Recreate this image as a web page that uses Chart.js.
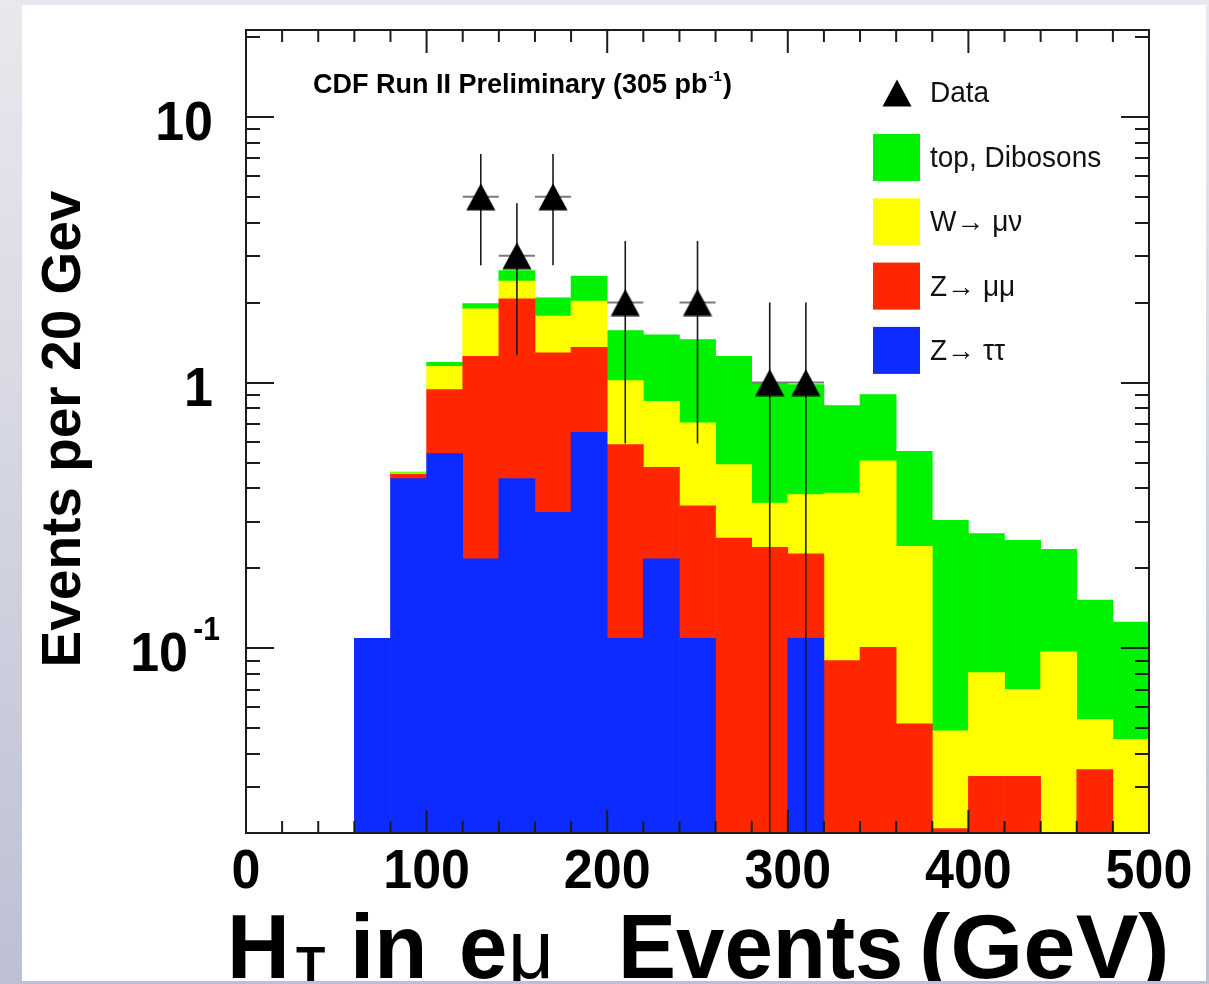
<!DOCTYPE html>
<html>
<head>
<meta charset="utf-8">
<title>HT in eμ events</title>
<script src="https://cdn.jsdelivr.net/npm/chart.js@4.4.1/dist/chart.umd.min.js"></script>
<style>
  html, body { margin: 0; padding: 0; }
  body {
    width: 1209px; height: 984px; overflow: hidden; position: relative;
    background: linear-gradient(#e8e9ee, #bdc0d3);
  }
  #panel { position: absolute; left: 22px; top: 5px; width: 1184px; height: 976px; background: #fff; }
  canvas { display: block; }
</style>
</head>
<body>
<div id="panel"><canvas id="chart" width="1184" height="976"></canvas></div>
<script>
// 20 GeV bins from 0 to 500, given by their centres
const binCenters = [10, 30, 50, 70, 90, 110, 130, 150, 170, 190, 210, 230, 250,
                    270, 290, 310, 330, 350, 370, 390, 410, 430, 450, 470, 490];

// expected events per bin for each background (stacked bottom to top)
const zTauTau = [null, null, null, 0.109, 0.435, 0.54, 0.217, 0.435, 0.325, 0.65, 0.109, 0.217, 0.109,
                 null, null, 0.109, null, null, null, null, null, null, null, null, null];
const zMuMu = [null, null, null, null, 0.018, 0.401, 1.039, 1.632, 0.969, 0.708, 0.475, 0.263, 0.235,
               0.26, 0.24, 0.118, 0.09, 0.101, 0.052, 0.021, 0.033, 0.033, null, 0.035, null];
const wMuNu = [null, null, null, null, 0.004, 0.211, 0.639, 0.34, 0.483, 0.666, 0.433, 0.37, 0.361,
               0.231, 0.112, 0.152, 0.294, 0.407, 0.19, 0.028, 0.048, 0.037, 0.097, 0.019, 0.0455];
const topDiboson = [null, null, null, null, 0.003, 0.04, 0.089, 0.233, 0.308, 0.49, 0.553, 0.662, 0.747,
                    0.765, 0.648, 0.604, 0.435, 0.393, 0.309, 0.254, 0.189, 0.185, 0.139, 0.098, 0.08];

// observed events
const dataX = [130, 150, 170, 210, 250, 290, 310];
const dataN = [5, 3, 5, 2, 2, 1, 1];
const dataErr = [2.24, 1.73, 2.24, 1.41, 1.41, 1, 1];
const binHalfWidth = 10;

const xTicks = [0, 100, 200, 300, 400, 500];
const yTicks = [10, 1, 0.1];

const GREEN = '#00f200', YELLOW = '#ffff00', RED = '#ff2600', BLUE = '#0d2bff';
const FONT = '"Liberation Sans", Arial, Helvetica, sans-serif';

// filled triangle marker, centred on its bounding box
function makeTriangle(w, h) {
  const c = document.createElement('canvas');
  c.width = w; c.height = h;
  const g = c.getContext('2d');
  g.fillStyle = '#000';
  g.beginPath();
  g.moveTo(w / 2, 0.5);
  g.lineTo(w - 0.5, h - 0.5);
  g.lineTo(0.5, h - 0.5);
  g.closePath();
  g.fill();
  return c;
}
const triangle = makeTriangle(30, 28);

function text(ctx, str, x, y, font, align, sy, sx) {
  ctx.save();
  ctx.font = font;
  ctx.textAlign = align || 'left';
  ctx.textBaseline = 'alphabetic';
  ctx.translate(x, y);
  ctx.scale(sx || 1, sy || 1);
  ctx.fillText(str, 0, 0);
  ctx.restore();
}

function drawErrorBars(chart) {
  const {ctx, chartArea: a, scales: {x, y}} = chart;
  ctx.save();
  ctx.beginPath();
  ctx.rect(a.left, a.top, a.width, a.height);
  ctx.clip();
  dataX.forEach((xv, i) => {
    const px = x.getPixelForValue(xv);
    const py = y.getPixelForValue(dataN[i]);
    const lo = dataN[i] - dataErr[i];
    const pLo = lo > 0 ? y.getPixelForValue(lo) : a.bottom;
    const pHi = y.getPixelForValue(dataN[i] + dataErr[i]);
    ctx.strokeStyle = '#7a7a7a';
    ctx.lineWidth = 2;
    ctx.beginPath();
    ctx.moveTo(x.getPixelForValue(xv - binHalfWidth), py);
    ctx.lineTo(x.getPixelForValue(xv + binHalfWidth), py);
    ctx.stroke();
    ctx.strokeStyle = '#1a1a1a';
    ctx.lineWidth = 1.6;
    ctx.beginPath();
    ctx.moveTo(px, pHi);
    ctx.lineTo(px, pLo);
    ctx.stroke();
  });
  ctx.restore();
}

function drawFrame(chart) {
  const {ctx, chartArea: a, scales: {x, y}} = chart;
  ctx.save();
  ctx.strokeStyle = '#1c1c1c';
  ctx.lineWidth = 2;
  ctx.beginPath();
  // ticks every 20 GeV, long ones at the labelled values
  for (let v = x.min; v <= x.max; v += 20) {
    const px = x.getPixelForValue(v);
    const len = xTicks.includes(v) ? 23 : 12;
    ctx.moveTo(px, a.bottom); ctx.lineTo(px, a.bottom - len);
    ctx.moveTo(px, a.top); ctx.lineTo(px, a.top + len);
  }
  // log ticks on both sides: decades long, 2..9 short
  for (let e = -2; e <= 1; e++) {
    for (let k = 1; k <= 9; k++) {
      const v = k * Math.pow(10, e);
      if (v < y.min || v > y.max) continue;
      const py = Math.round(y.getPixelForValue(v));
      const len = k === 1 ? 28 : 14;
      ctx.moveTo(a.left, py); ctx.lineTo(a.left + len, py);
      ctx.moveTo(a.right, py); ctx.lineTo(a.right - len, py);
    }
  }
  ctx.stroke();
  ctx.strokeRect(a.left, a.top, a.width, a.height);
  ctx.restore();
}

function drawLabels(chart) {
  const {ctx, chartArea: a, scales: {x, y}} = chart;
  ctx.fillStyle = '#000';
  const tickFont = 'bold 52px ' + FONT;

  xTicks.forEach(v => text(ctx, String(v), x.getPixelForValue(v), a.bottom + 55, tickFont, 'center', 1.08));

  yTicks.forEach(v => {
    const py = y.getPixelForValue(v);
    if (v >= 1) {
      text(ctx, String(v), 191, py + 23, tickFont, 'right', 1.08);
    } else {
      text(ctx, '10', 166, py + 23, tickFont, 'right', 1.08);
      text(ctx, String(Math.round(Math.log10(v))), 198, py - 8, 'bold 30px ' + FONT, 'right', 1.08);
    }
  });

  // y axis title
  ctx.save();
  ctx.translate(58, 424);
  ctx.rotate(-Math.PI / 2);
  text(ctx, 'Events per 20 Gev', 0, 0, 'bold 55px ' + FONT, 'center');
  ctx.restore();

  // x axis title: H_T in e mu Events (GeV)
  const big = 'bold 87px ' + FONT;
  const base = 973;
  text(ctx, 'H', 205, base, big, 'left', 1.05);
  text(ctx, 'T', 274, base + 4, 'bold 48px ' + FONT, 'left', 1.05);
  text(ctx, 'in', 328, base, big, 'left', 1.05);
  text(ctx, 'e', 437, base, big, 'left', 1.05);
  text(ctx, 'μ', 486, base, '80px ' + FONT, 'left', 1.05);
  text(ctx, 'Events', 596, base, big, 'left', 1.05);
  text(ctx, '(GeV)', 897, base, big, 'left', 1.05, 1.08);

  // experiment label
  const lab = 'bold 27px ' + FONT;
  ctx.font = lab;
  let cx = 291;
  const part1 = 'CDF Run II Preliminary (305 pb';
  text(ctx, part1, cx, 88, lab);
  cx += ctx.measureText(part1).width + 1;
  text(ctx, '-1', cx, 76, 'bold 15px ' + FONT);
  ctx.font = 'bold 15px ' + FONT;
  cx += ctx.measureText('-1').width + 1;
  text(ctx, ')', cx, 88, lab);

  // legend
  const legFont = '28px ' + FONT;
  ctx.fillStyle = '#111';
  ctx.drawImage(triangle, 875 - triangle.width / 2, 88 - triangle.height / 2);
  text(ctx, 'Data', 908, 97, legFont, 'left', 1.03);
  const bars = chart.data.datasets.filter(d => d.type !== 'scatter').slice().reverse();
  bars.forEach((d, i) => {
    const top = 129 + i * 64.3;
    ctx.fillStyle = d.backgroundColor;
    ctx.fillRect(851, top, 47, 47);
    ctx.fillStyle = '#111';
    text(ctx, d.label, 908, top + 33, legFont, 'left', 1.03);
  });
}

const rootStyle = {
  id: 'rootStyle',
  beforeDatasetDraw(chart, args) {
    if (chart.data.datasets[args.index].type === 'scatter') drawErrorBars(chart);
  },
  afterDatasetsDraw(chart) { drawFrame(chart); },
  afterDraw(chart) { drawLabels(chart); }
};

new Chart(document.getElementById('chart'), {
  type: 'bar',
  data: {
    labels: binCenters,
    datasets: [
      { label: 'Z\u2192 \u03c4\u03c4', data: zTauTau, backgroundColor: BLUE, order: 1 },
      { label: 'Z\u2192 \u03bc\u03bc', data: zMuMu, backgroundColor: RED, order: 1 },
      { label: 'W\u2192 \u03bc\u03bd', data: wMuNu, backgroundColor: YELLOW, order: 1 },
      { label: 'top, Dibosons', data: topDiboson, backgroundColor: GREEN, order: 1 },
      {
        type: 'scatter', label: 'Data', order: 0,
        data: dataX.map((xv, i) => ({ x: xv, y: dataN[i] })),
        pointStyle: triangle, pointRadius: 15
      }
    ]
  },
  options: {
    responsive: false,
    animation: false,
    devicePixelRatio: 1,
    events: [],
    layout: { padding: { left: 224, top: 25, right: 57, bottom: 148 } },
    datasets: { bar: { barPercentage: 1, categoryPercentage: 1, borderWidth: 0 } },
    scales: {
      x: { type: 'linear', min: 0, max: 500, stacked: true, offset: false, display: false },
      y: { type: 'logarithmic', min: 0.0202, max: 21.2, stacked: true, beginAtZero: false, display: false }
    },
    plugins: { legend: { display: false }, tooltip: { enabled: false } }
  },
  plugins: [rootStyle]
});
</script>
</body>
</html>
